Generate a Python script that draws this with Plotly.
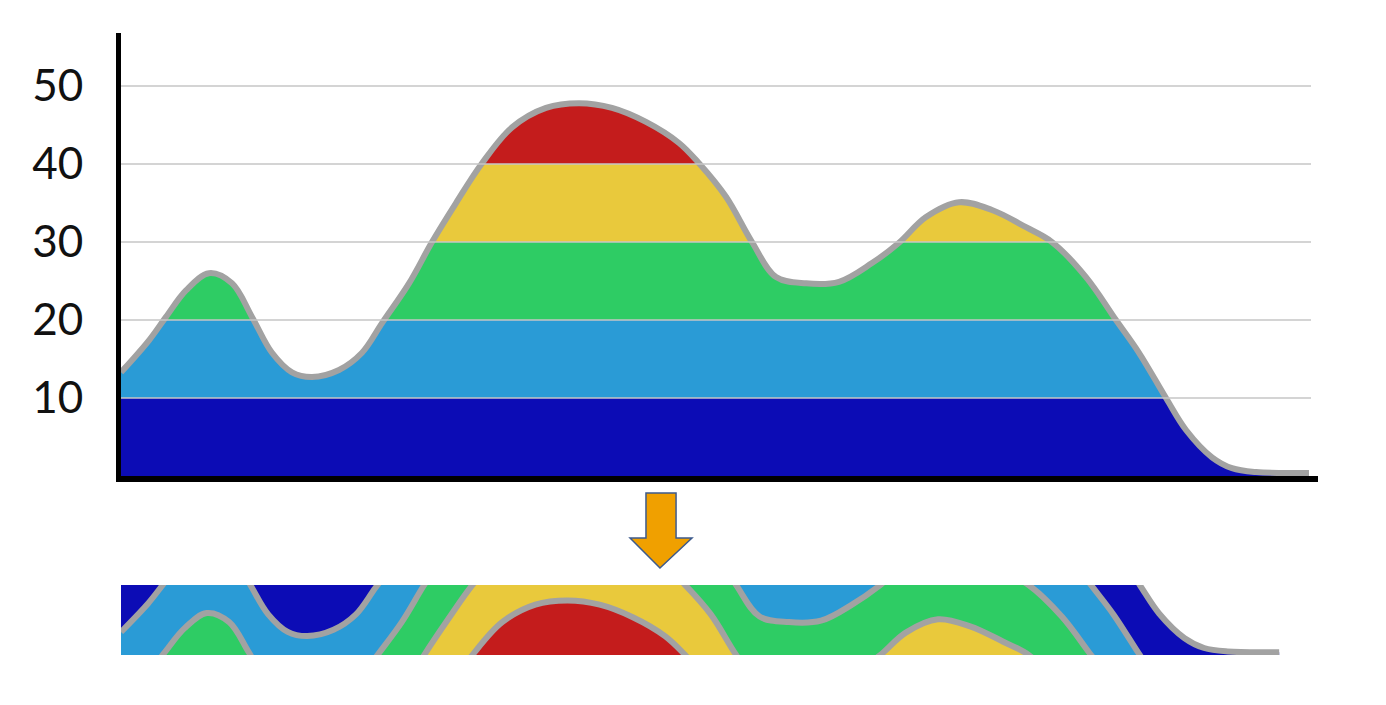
import plotly.graph_objects as go

# curve (x = position along the axis, y = value)
x_pos = [0, 2.8, 4.5, 6.5, 8.8, 11.1, 13.1, 15.1, 17.1, 19.1, 21.8, 24.1, 26.1,
         28.8, 31.1, 33.5, 36.1, 39.1, 42.5, 45.8, 49.1, 52.5, 55.8, 57.8, 60.5,
         63.1, 65.5, 68.5, 71.8, 75.1, 77.8, 80.5, 83.8, 87.1, 90.5, 93.1, 96.5,
         99.5, 101.8, 104.5, 106.5, 109.1, 111.1, 113.5, 118.8]
values = [13.3, 17.4, 20.4, 23.8, 26.0, 24.7, 20.4, 15.8, 13.3, 12.7, 13.6, 15.8, 19.6,
          24.7, 30.0, 35.0, 40.1, 44.7, 47.2, 47.8, 47.2, 45.4, 42.7, 40.1, 35.8,
          30.0, 25.5, 24.7, 24.9, 27.3, 29.9, 33.2, 35.1, 34.1, 31.9, 30.0, 25.5,
          20.0, 15.8, 10.0, 5.9, 2.4, 1.0, 0.5, 0.4]

band_edges = [0, 10, 20, 30, 40, 50]
band_colors = ['#0c0cb5', '#2a9bd6', '#2ecc64', '#e9c93c', '#c41c1c']
y_ticks = [10, 20, 30, 40, 50]

W, H = 1386, 705
OFF = 8  # page body margin, layout positions below are window pixels


def px(x):
    return (x - OFF) / W


def py(y):
    return 1 - (y - OFF) / H


curve_line = dict(color='#a2a2a2', width=6, shape='spline', smoothing=1.0)

# colour bands as a hard-stop vertical gradient
span = band_edges[-1] - band_edges[0]
scale = []
for i, c in enumerate(band_colors):
    scale.append([(band_edges[i] - band_edges[0]) / span, c])
    scale.append([(band_edges[i + 1] - band_edges[0]) / span, c])

fig = go.Figure()
fig.add_trace(go.Scatter(x=x_pos, y=values, mode='lines', line=curve_line,
                         fill='tozeroy',
                         fillgradient=dict(type='vertical', colorscale=scale,
                                           start=band_edges[0], stop=band_edges[-1]),
                         xaxis='x', yaxis='y', hoverinfo='skip', showlegend=False))

# horizon strip: every band shifted down and folded into one 10-unit strip
band_h = band_edges[1] - band_edges[0]
for k, c in enumerate(band_colors):
    fig.add_trace(go.Scatter(x=x_pos, y=[v - band_edges[k] for v in values],
                             mode='lines', line=curve_line, fill='tozeroy', fillcolor=c,
                             xaxis='x2', yaxis='y2', hoverinfo='skip', showlegend=False))

# gridlines on top of the filled area
for t in y_ticks:
    fig.add_shape(type='line', xref='x', yref='y', x0=0, x1=119, y0=t, y1=t,
                  line=dict(color='#c6c6c6', width=1.5), layer='above')

# orange arrow between the two panels
arrow_px = [(646, 493), (676, 493), (676, 538), (692, 538), (660, 568), (630, 538), (646, 538)]
path = 'M ' + ' L '.join(f'{px(a):.4f},{py(b):.4f}' for a, b in arrow_px) + ' Z'
fig.add_shape(type='path', xref='paper', yref='paper', path=path,
              fillcolor='#f0a000', line=dict(color='#3d5a8c', width=1.5))

fig.update_layout(
    width=W, height=H,
    margin=dict(l=0, r=0, t=0, b=0),
    paper_bgcolor='white', plot_bgcolor='rgba(0,0,0,0)',
    font=dict(family='Lato, Carlito, sans-serif', color='#111111'),
    xaxis=dict(domain=[px(121), px(1318)], range=[0, 119.7], anchor='y',
               showline=True, linecolor='black', linewidth=6,
               showgrid=False, zeroline=False, showticklabels=False, ticks=''),
    yaxis=dict(domain=[py(476), py(33)], range=[0, 56.8], anchor='x',
               showline=True, linecolor='black', linewidth=5,
               showgrid=False, zeroline=False, tickvals=y_ticks, ticks='',
               tickfont=dict(size=44), ticklabelstandoff=24),
    xaxis2=dict(domain=[px(121), px(1325)], range=[0, 123.5], anchor='y2', visible=False),
    yaxis2=dict(domain=[py(655), py(585)], range=[0, band_h], anchor='x2', visible=False),
)

fig.write_html("out.html")
